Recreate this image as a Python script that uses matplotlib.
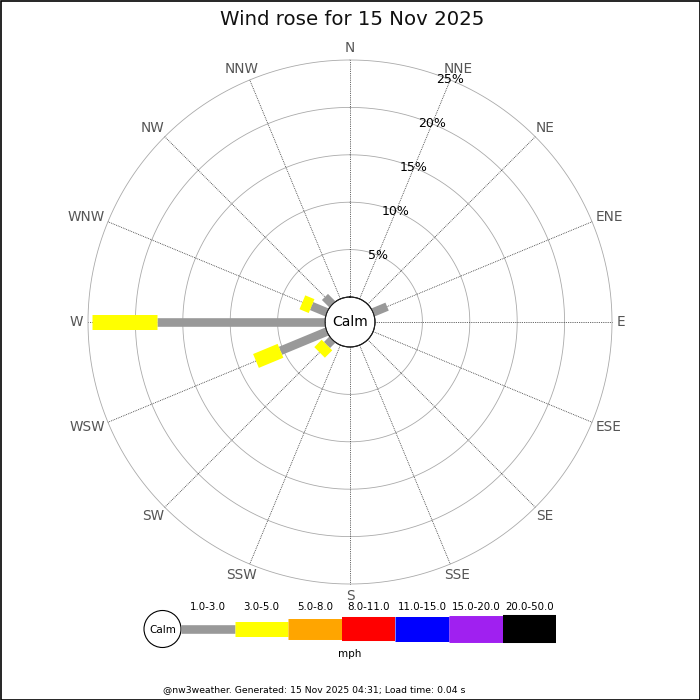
import numpy as np
import matplotlib
matplotlib.use("Agg")
import matplotlib.pyplot as plt
from matplotlib.patches import Circle, Rectangle

# ---- data ----
directions = ['N', 'NNE', 'NE', 'ENE', 'E', 'ESE', 'SE', 'SSE',
              'S', 'SSW', 'SW', 'WSW', 'W', 'WNW', 'NW', 'NNW']
bands = ['1.0-3.0', '3.0-5.0', '5.0-8.0', '8.0-11.0', '11.0-15.0', '15.0-20.0', '20.0-50.0']
band_colors = ['#999999', '#ffff00', '#ffa500', '#ff0000', '#0000ff', '#a020f0', '#000000']
band_widths = [6.2, 10.8, 15.1, 17.3, 18.0, 19.4, 20.2]  # line thickness (pt)

# percent frequency per direction, per speed band
freq = {
    '1.0-3.0':   [0, 0, 0, 1.6, 0, 0, 0, 0, 0, 0, 0.8, 5.3, 17.7, 1.75, 1.1, 0],
    '3.0-5.0':   [0, 0, 0, 0, 0, 0, 0, 0, 0, 0, 1.1, 2.8, 6.9, 1.05, 0, 0],
    '5.0-8.0':   [0] * 16,
    '8.0-11.0':  [0] * 16,
    '11.0-15.0': [0] * 16,
    '15.0-20.0': [0] * 16,
    '20.0-50.0': [0] * 16,
}
rings = [5, 10, 15, 20, 25]
ring_labels = ['5%', '10%', '15%', '20%', '25%']
title = 'Wind rose for 15 Nov 2025'
footer = '@nw3weather. Generated: 15 Nov 2025 04:31; Load time: 0.04 s'
units = 'mph'

# ---- figure ----
fig = plt.figure(figsize=(7, 7), dpi=100)
fig.patch.set_facecolor('white')

rmax = 25.0
calm_px, outer_px = 25.0, 262.0
cx, cy = 350.0, 322.0
ax = fig.add_axes([(cx - outer_px) / 700, (700 - cy - outer_px) / 700,
                   2 * outer_px / 700, 2 * outer_px / 700], projection='polar')
ax.set_theta_zero_location('N')
ax.set_theta_direction(-1)
ax.set_ylim(0, rmax)
ax.set_rorigin(-rmax * calm_px / (outer_px - calm_px))
ax.grid(False)
ax.set_xticks([])
ax.set_yticks([])
ax.spines['polar'].set_visible(False)
ax.patch.set_alpha(0)

thetas = np.deg2rad(np.arange(16) * 22.5)
circ = np.linspace(0, 2 * np.pi, 500)

# rings
for r in rings:
    ax.plot(circ, np.full_like(circ, r), color='#aaaaaa', lw=0.6, zorder=1, clip_on=False)
# spokes
for t in thetas:
    ax.plot([t, t], [0, rmax], color='#333333', lw=0.6, ls=(0, (1, 1.2)), zorder=1, clip_on=False)

# bars (stacked)
cum = np.zeros(16)
for b, c, w in zip(bands, band_colors, band_widths):
    vals = np.array(freq[b], dtype=float)
    for i in range(16):
        if vals[i] > 0:
            ax.plot([thetas[i], thetas[i]], [cum[i], cum[i] + vals[i]], color=c,
                    lw=w, solid_capstyle='butt', zorder=3)
    cum += vals

# calm circle
ax.plot(circ, np.zeros_like(circ), color='#222222', lw=0.7, zorder=4, clip_on=False)
fig.text(cx / 700, 1 - cy / 700, 'Calm', ha='center', va='center', fontsize=10, color='black')

# direction labels: anchored just outside the outer ring, pushed outward by half their size
lab_r = rmax * (267 - calm_px) / (outer_px - calm_px)
anns = []
for t, d in zip(thetas, directions):
    a = ax.annotate(d, xy=(t, lab_r), xytext=(0, 0), textcoords='offset pixels',
                    ha='center', va='center', fontsize=9.8, color='#555555',
                    annotation_clip=False)
    anns.append((t, a))
fig.canvas.draw()
renderer = fig.canvas.get_renderer()
for t, a in anns:
    bb = a.get_window_extent(renderer)
    a.xyann = (np.sin(t) * bb.width / 2, np.cos(t) * bb.height / 2)

# ring labels (along NNE)
for r, l in zip(rings, ring_labels):
    ax.text(thetas[1], r, l, ha='center', va='center', fontsize=9, color='black', zorder=6)

# ---- overlay (title, legend, footer, border) ----
ov = fig.add_axes([0, 0, 1, 1])
ov.set_xlim(0, 700)
ov.set_ylim(700, 0)
ov.axis('off')
ov.patch.set_alpha(0)

ov.text(352, 25, title, ha='center', va='baseline', fontsize=14.2, color='#111111')

# legend
ov.add_patch(Circle((162.5, 629), 18.5, facecolor='white', edgecolor='black', lw=0.8))
ov.text(162.5, 630, 'Calm', ha='center', va='center', fontsize=7.5)
seg_x0, seg_w = 181.0, 53.6
for i, (b, c, w) in enumerate(zip(bands, band_colors, band_widths)):
    x0 = seg_x0 + i * seg_w
    ov.plot([x0, x0 + seg_w], [629, 629], color=c, lw=w, solid_capstyle='butt')
    ov.text(x0 + seg_w / 2, 607, b, ha='center', va='center', fontsize=7.4)
ov.text(350, 654, units, ha='center', va='center', fontsize=7.5)

ov.text(163, 690, footer, ha='left', va='center', fontsize=6.7)

ov.add_patch(Rectangle((0.5, 0.5), 699, 699, fill=False, edgecolor='black', lw=1.2))

fig.savefig('out.png', dpi=100)
